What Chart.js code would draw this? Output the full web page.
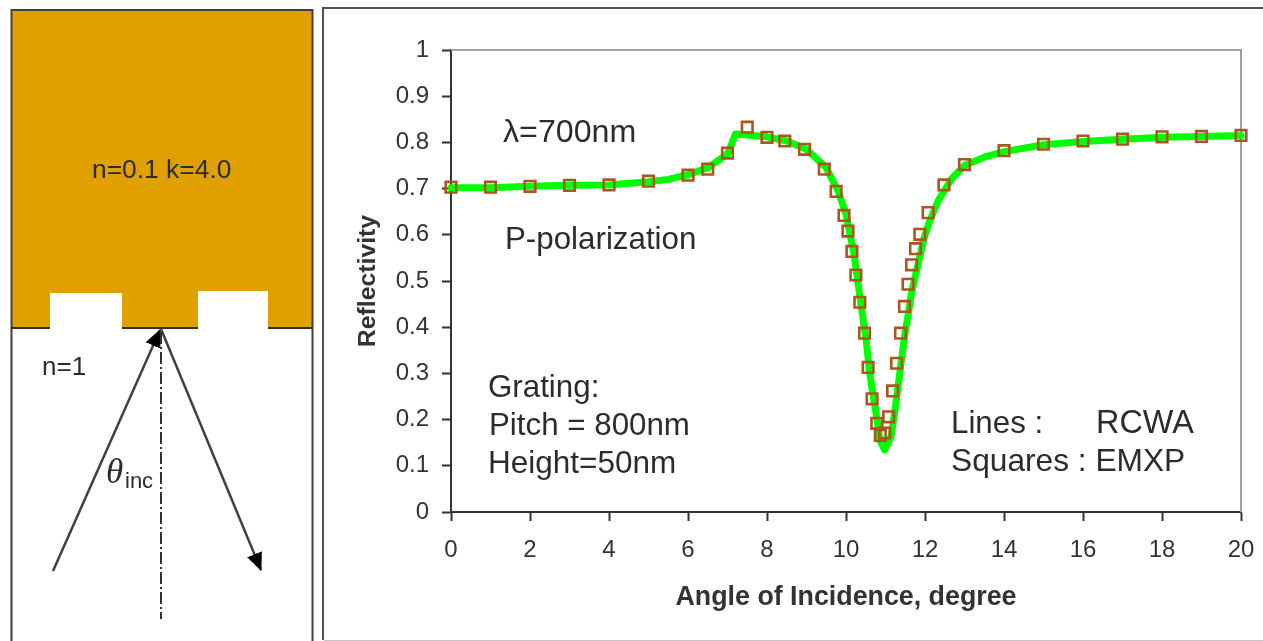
<!DOCTYPE html>
<html>
<head>
<meta charset="utf-8">
<title>Reflectivity vs angle of incidence</title>
<script src="https://cdn.jsdelivr.net/npm/chart.js@4"></script>
<style>
  html, body { margin: 0; padding: 0; background: #fff; overflow: hidden; }
  #page { position: relative; width: 1263px; height: 641px; filter: blur(0.5px); }
  #diagram { position: absolute; left: 0; top: 0; }
  #diagram text { font-family: "Liberation Sans", Arial, sans-serif; fill: #2c2c2c; }
  #chartBox { position: absolute; left: 325px; top: 9px; width: 938px; height: 630px; }
</style>
</head>
<body>
<div id="page">
  <svg id="diagram" width="1263" height="641" viewBox="0 0 1263 641">
    <defs>
      <marker id="head" markerUnits="userSpaceOnUse" markerWidth="18" markerHeight="16" refX="17" refY="8" orient="auto">
        <path d="M0 0 L18 8 L0 16 Z" fill="#000"/>
      </marker>
    </defs>

    <!-- left panel: metal with two grooves -->
    <rect x="11.5" y="10" width="301" height="318" fill="#e0a000"/>
    <rect x="50" y="293" width="72" height="36" fill="#fff"/>
    <rect x="198" y="291" width="70" height="38" fill="#fff"/>
    <path d="M11.5 641 V10 H312.5 V641" fill="none" stroke="#404040" stroke-width="2"/>
    <path d="M11 328 H50 M122 328 H198 M268 328 H313" stroke="#303030" stroke-width="2"/>
    <path d="M53 571 L160 330" stroke="#404040" stroke-width="2.5" marker-end="url(#head)"/>
    <path d="M161 329 L261 570" stroke="#404040" stroke-width="2.5" marker-end="url(#head)"/>
    <path d="M161 332 V619" stroke="#303030" stroke-width="2" stroke-dasharray="12 3 2 3"/>
    <text x="92" y="178" font-size="26.4">n=0.1 k=4.0</text>
    <text x="42" y="375" font-size="26">n=1</text>
    <text x="106" y="483" font-size="35" font-style="italic" style="font-family:'Liberation Serif',serif">θ</text>
    <text x="125" y="488" font-size="22">inc</text>

    <!-- right panel frame -->
    <path d="M323 640 V8 H1263" fill="none" stroke="#505050" stroke-width="2"/>
    <path d="M324 640.5 H1263" stroke="#c4c4c4" stroke-width="1"/>

    <!-- notes on the plot -->
    <text x="503" y="142" font-size="32.2">λ=700nm</text>
    <text x="505" y="249" font-size="31.3">P-polarization</text>
    <text x="488" y="397" font-size="31.3">Grating:</text>
    <text x="489" y="435" font-size="31.3">Pitch = 800nm</text>
    <text x="488" y="473" font-size="31.5">Height=50nm</text>
    <text x="951" y="433" font-size="31.3">Lines :</text>
    <text x="1096" y="433" font-size="32.4">RCWA</text>
    <text x="951" y="471" font-size="31.7">Squares : EMXP</text>
  </svg>
  <div id="chartBox"><canvas id="myChart"></canvas></div>
</div>

<script>
// RCWA curve (green line)
const lineAngles = [0, 1, 2, 3, 4, 5, 5.5, 6, 6.5, 7, 7.1, 7.2, 7.5, 8, 8.5, 9, 9.5, 9.8, 10, 10.2,
  10.41, 10.52, 10.6, 10.75, 10.86, 10.98, 11.14, 11.25, 11.36, 11.48, 11.59, 11.64, 11.75, 11.87,
  12, 12.13, 12.34, 12.68, 13, 13.5, 14, 15, 16, 17, 18, 19, 20];
const lineReflectivity = [0.702, 0.702, 0.705, 0.707, 0.708, 0.715, 0.72, 0.73, 0.745, 0.775, 0.795, 0.818, 0.816, 0.812, 0.803, 0.785, 0.745, 0.695, 0.645, 0.56,
  0.43, 0.365, 0.30, 0.22, 0.155, 0.134, 0.163, 0.227, 0.30, 0.379, 0.436, 0.466, 0.509, 0.553,
  0.60, 0.632, 0.675, 0.722, 0.75, 0.768, 0.78, 0.795, 0.802, 0.807, 0.811, 0.813, 0.815];

// EMXP points (squares)
const squareAngles = [0, 1, 2, 3, 4, 5, 6, 6.5, 7, 7.5, 8, 8.45, 8.95, 9.45, 9.75, 9.95, 10.05, 10.15, 10.25,
  10.35, 10.47, 10.56, 10.66, 10.78, 10.87, 10.98, 11.08, 11.18, 11.28, 11.38, 11.48, 11.57, 11.66, 11.76, 11.87,
  12.08, 12.48, 13, 14, 15, 16, 17, 18, 19, 20];
const squareReflectivity = [0.703, 0.703, 0.705, 0.707, 0.708, 0.716, 0.729, 0.742, 0.777, 0.833, 0.811, 0.803, 0.785, 0.742, 0.694, 0.642, 0.608, 0.564, 0.513,
  0.454, 0.387, 0.313, 0.245, 0.192, 0.166, 0.171, 0.206, 0.262, 0.322, 0.387, 0.445, 0.493, 0.535, 0.57, 0.601,
  0.648, 0.708, 0.752, 0.782, 0.796, 0.803, 0.807, 0.812, 0.813, 0.815];

const toPoints = (xs, ys) => xs.map((x, i) => ({ x, y: ys[i] }));
const FONT = '"Liberation Sans", Arial, sans-serif';
const DARK = '#333333';

// grey top and right edges of the plot
Chart.register({
  id: 'plotEdges',
  beforeDatasetsDraw(chart) {
    const { ctx, chartArea: { left, right, top, bottom } } = chart;
    ctx.save();
    ctx.strokeStyle = '#a0a0a0';
    ctx.lineWidth = 2;
    ctx.beginPath(); ctx.moveTo(left, top); ctx.lineTo(right, top); ctx.lineTo(right, bottom); ctx.stroke();
    ctx.restore();
  }
});

const noPadding = scale => {
  scale.paddingLeft = scale.paddingRight = scale.paddingTop = scale.paddingBottom = 0;
};

new Chart(document.getElementById('myChart').getContext('2d'), {
  type: 'scatter',
  data: {
    datasets: [{
      label: 'EMXP',
      data: toPoints(squareAngles, squareReflectivity),
      showLine: false,
      pointStyle: 'rect',
      pointRadius: 7.5,
      pointBorderWidth: 2.6,
      pointBorderColor: '#a9571f',
      pointBackgroundColor: 'rgba(255,255,255,0)',
      clip: false
    }, {
      label: 'RCWA',
      data: toPoints(lineAngles, lineReflectivity),
      showLine: true,
      tension: 0,
      borderColor: '#00ff00',
      borderWidth: 7,
      borderJoinStyle: 'round',
      borderCapStyle: 'round',
      pointRadius: 0,
      clip: false
    }]
  },
  options: {
    responsive: true,
    maintainAspectRatio: false,
    animation: false,
    layout: { padding: { left: 0, top: 41, right: 22, bottom: 0 } },
    plugins: { legend: { display: false }, tooltip: { enabled: false } },
    scales: {
      x: {
        type: 'linear',
        min: 0,
        max: 20,
        afterFit(scale) { scale.height = 127; noPadding(scale); },
        grid: { drawOnChartArea: false, tickLength: 9, tickColor: DARK, tickWidth: 2 },
        border: { color: DARK, width: 2 },
        ticks: { stepSize: 2, color: DARK, padding: 15, maxRotation: 0, font: { family: FONT, size: 24 } },
        title: {
          display: true,
          text: 'Angle of Incidence, degree',
          color: DARK,
          align: 'center',
          padding: { top: 0, bottom: 25 },
          font: { family: FONT, size: 26.8, weight: 'bold' }
        }
      },
      y: {
        type: 'linear',
        min: 0,
        max: 1,
        afterFit(scale) { scale.width = 126; noPadding(scale); },
        grid: { drawOnChartArea: false, tickLength: 9, tickColor: DARK, tickWidth: 2 },
        border: { color: DARK, width: 2 },
        ticks: {
          stepSize: 0.1,
          color: DARK,
          padding: 13,
          font: { family: FONT, size: 24 },
          callback: value => String(+value.toFixed(1))
        },
        title: {
          display: true,
          text: 'Reflectivity',
          color: DARK,
          padding: { top: 28, bottom: 0 },
          font: { family: FONT, size: 24.8, weight: 'bold' }
        }
      }
    }
  }
});
</script>
</body>
</html>
